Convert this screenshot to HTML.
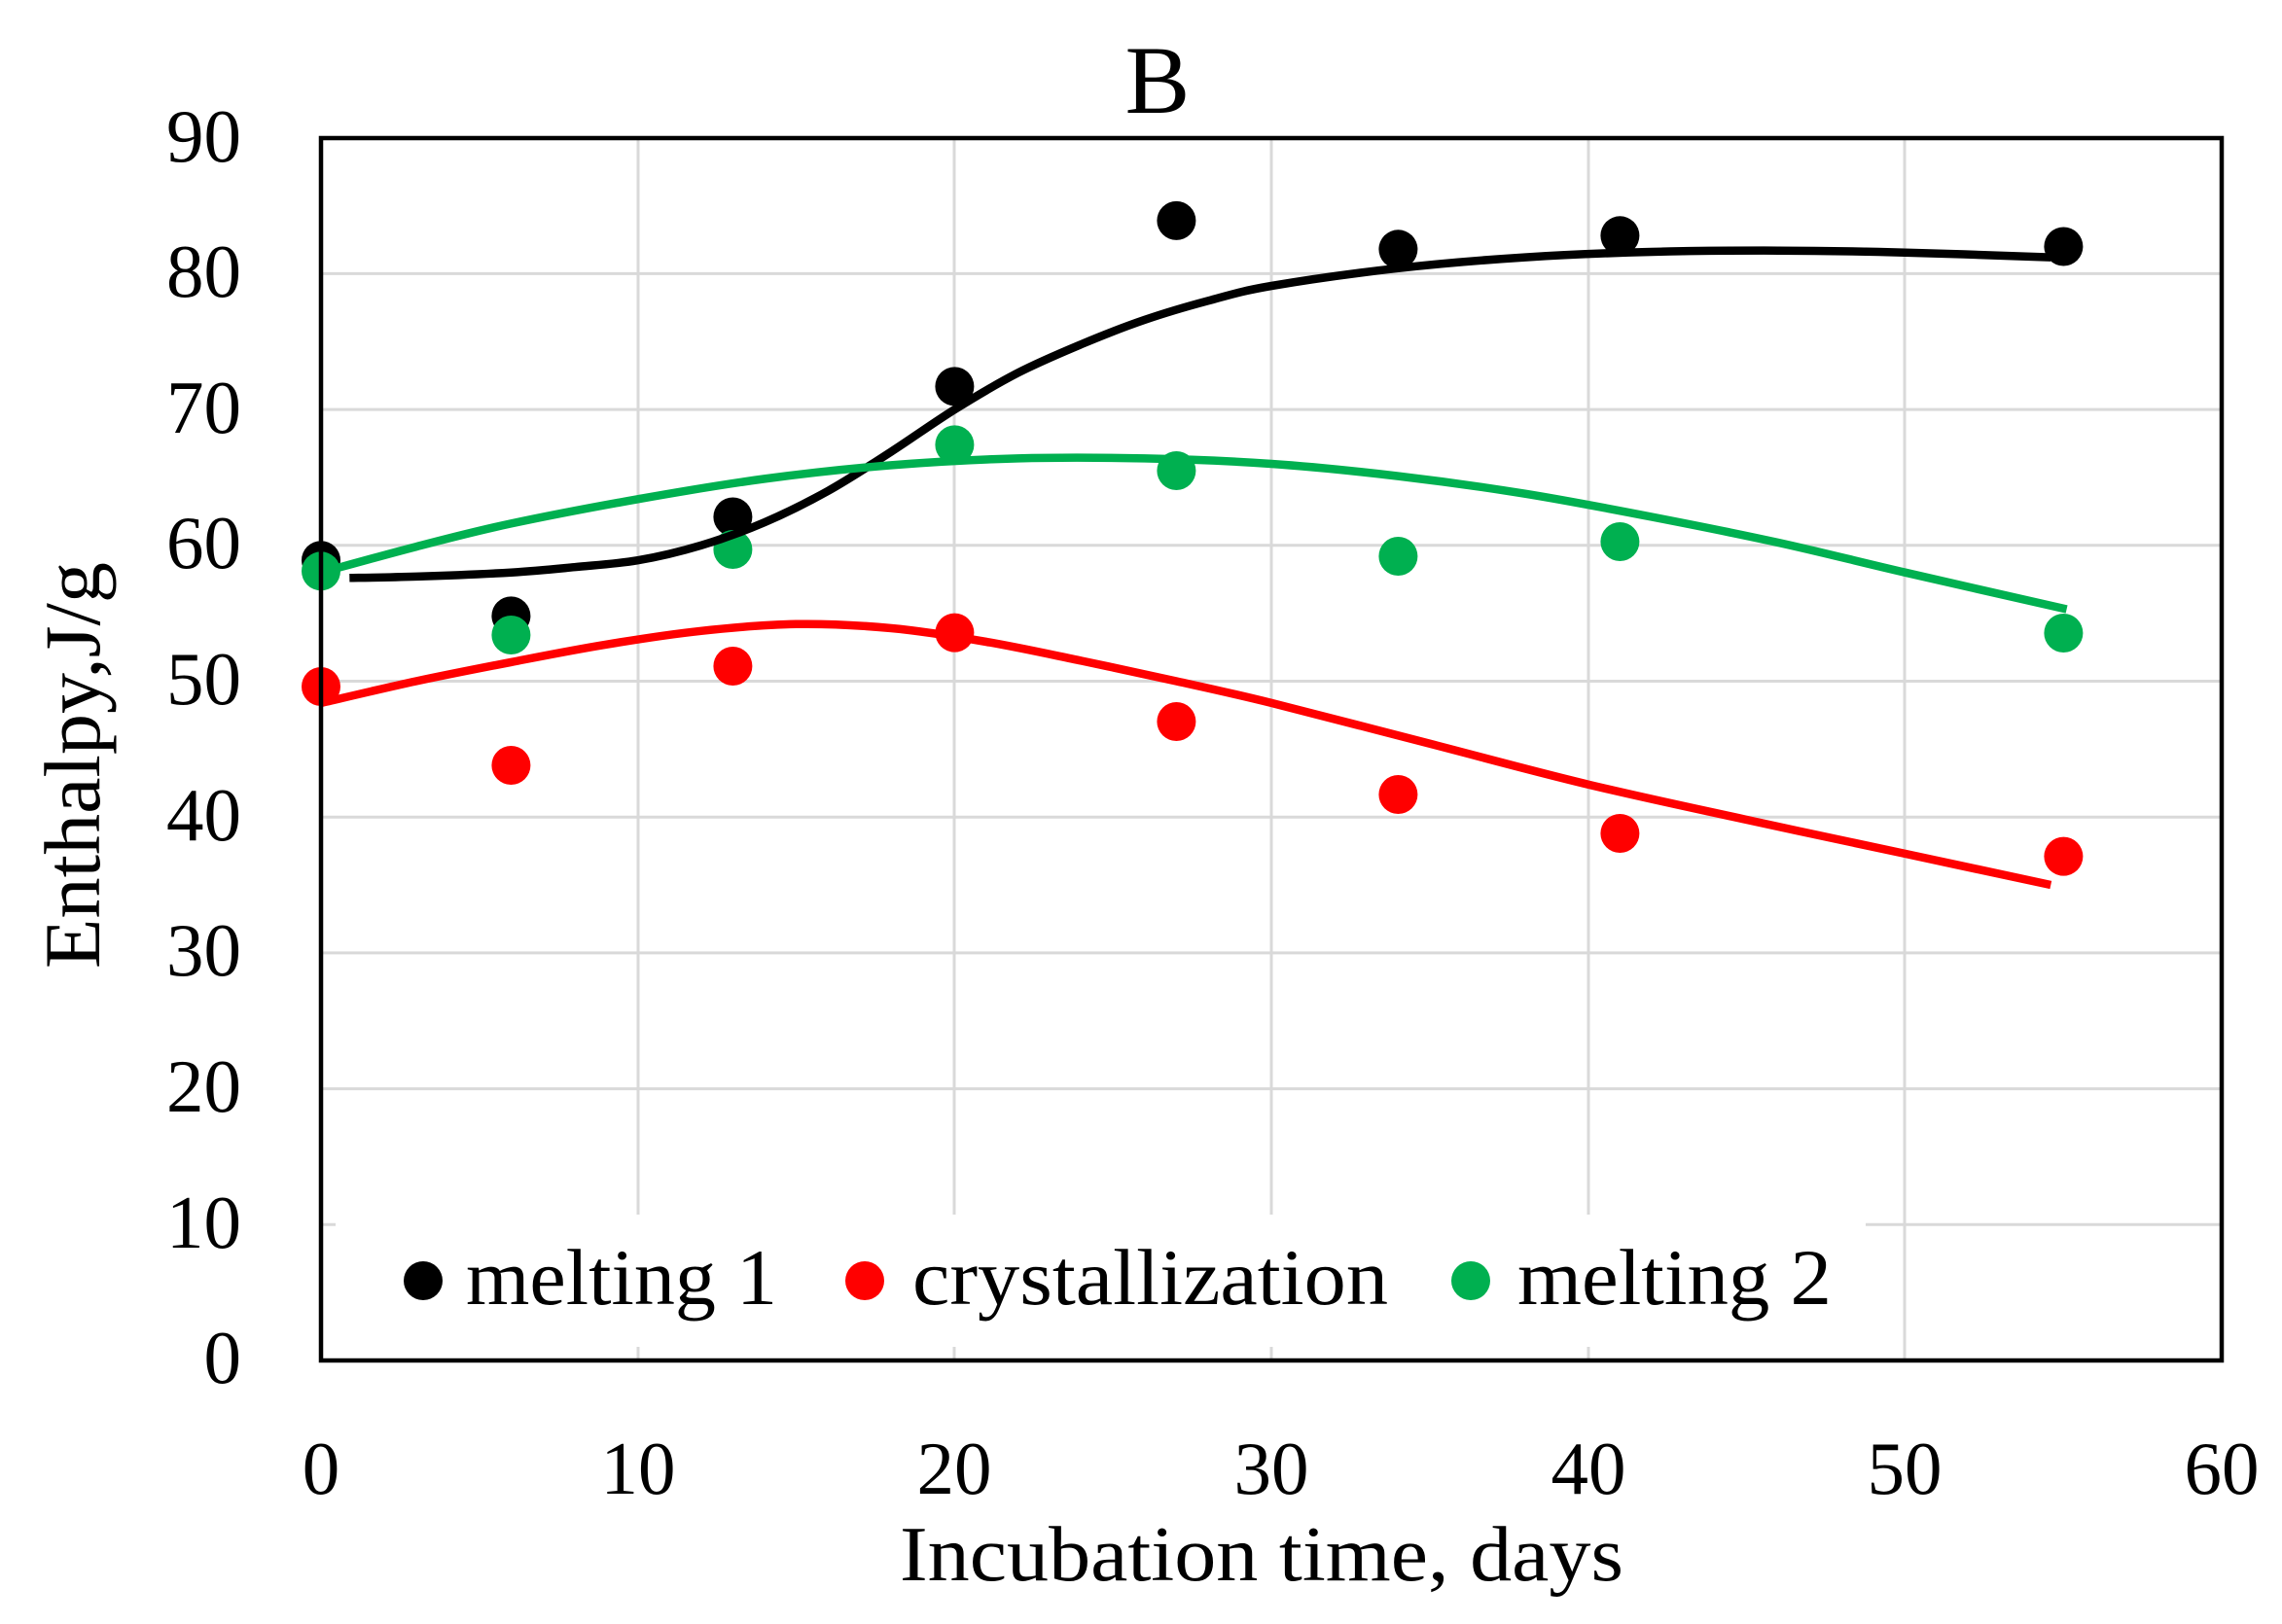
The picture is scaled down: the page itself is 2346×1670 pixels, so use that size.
<!DOCTYPE html>
<html>
<head>
<meta charset="utf-8">
<style>
  html,body{margin:0;padding:0;background:#fff;}
  svg{display:block;}
  text{font-family:"Liberation Serif",serif;fill:#000;}
</style>
</head>
<body>
<svg id="chart" width="2346" height="1670" viewBox="0 0 2346 1670" xmlns="http://www.w3.org/2000/svg">
  <rect x="0" y="0" width="2346" height="1670" fill="#fff"/>

  <!-- gridlines -->
  <g stroke="#d9d9d9" stroke-width="3" fill="none">
    <line x1="656" y1="142" x2="656" y2="1399"/>
    <line x1="981" y1="142" x2="981" y2="1399"/>
    <line x1="1307" y1="142" x2="1307" y2="1399"/>
    <line x1="1633" y1="142" x2="1633" y2="1399"/>
    <line x1="1958" y1="142" x2="1958" y2="1399"/>
    <line x1="330" y1="1259.3" x2="2284" y2="1259.3"/>
    <line x1="330" y1="1119.6" x2="2284" y2="1119.6"/>
    <line x1="330" y1="979.9" x2="2284" y2="979.9"/>
    <line x1="330" y1="840.2" x2="2284" y2="840.2"/>
    <line x1="330" y1="700.5" x2="2284" y2="700.5"/>
    <line x1="330" y1="560.8" x2="2284" y2="560.8"/>
    <line x1="330" y1="421.1" x2="2284" y2="421.1"/>
    <line x1="330" y1="281.4" x2="2284" y2="281.4"/>
  </g>

  <!-- legend background -->
  <rect x="345" y="1249" width="1573" height="136" fill="#fff"/>

  <!-- markers -->
  <g fill="#000">
    <circle cx="330" cy="576.2" r="20"/>
    <circle cx="525.4" cy="633.4" r="20"/>
    <circle cx="753.4" cy="531.5" r="20"/>
    <circle cx="981.4" cy="397.4" r="20"/>
    <circle cx="1209.4" cy="226.9" r="20"/>
    <circle cx="1437.4" cy="256.3" r="20"/>
    <circle cx="1665.4" cy="242.3" r="20"/>
    <circle cx="2121.4" cy="253.5" r="20"/>
  </g>
  <g fill="#ff0000">
    <circle cx="330" cy="706" r="20"/>
    <circle cx="525.4" cy="787" r="20"/>
    <circle cx="753.4" cy="685" r="20"/>
    <circle cx="981.4" cy="650.6" r="20"/>
    <circle cx="1209.4" cy="742" r="20"/>
    <circle cx="1437.4" cy="817" r="20"/>
    <circle cx="1665.4" cy="857" r="20"/>
    <circle cx="2121.4" cy="880.6" r="20"/>
  </g>
  <g fill="#00b050">
    <circle cx="330" cy="587.3" r="20"/>
    <circle cx="525.4" cy="653" r="20"/>
    <circle cx="753.4" cy="565" r="20"/>
    <circle cx="981.4" cy="457.4" r="20"/>
    <circle cx="1209.4" cy="484" r="20"/>
    <circle cx="1437.4" cy="572" r="20"/>
    <circle cx="1665.4" cy="557" r="20"/>
    <circle cx="2121.4" cy="651" r="20"/>
  </g>

  <!-- trendlines -->
  <g fill="none" stroke-width="8.5" stroke-linejoin="round" stroke-linecap="butt">
    <polyline class="s" stroke="#000" points="359.3,594.3 427.7,592.9 525.4,588.7 590.6,583.2 655.7,576.2 720.8,560.8 786,537.1 851.1,504.9 916.3,464.4 981.4,421.1 1046.5,383.4 1111.7,354 1176.8,328.9 1242,309.3 1307.1,294 1437.4,275.8 1567.7,264.6 1697.9,259 1828.2,257.7 1958.5,259.7 2108.3,264.6"/>
    <polyline class="s" stroke="#ff0000" points="330,722.9 427.7,700.5 525.4,680.9 623.1,662.8 720.8,648.8 818.6,641.8 916.3,646 1014,660 1111.7,679.5 1209.4,700.5 1307.1,722.9 1470,764.8 1632.8,806.7 1795.7,843 1958.5,877.9 2108.3,910"/>
    <polyline class="s" stroke="#00b050" points="330,588.7 427.7,562.2 525.4,538.4 655.7,513.3 786,492.4 916.3,478.4 1046.5,471.4 1176.8,471.4 1307.1,477 1437.4,489.6 1567.7,507.7 1697.9,531.5 1828.2,558 1958.5,588.7 2124.6,626.5"/>
  </g>

  <!-- plot frame -->
  <rect x="330" y="142" width="1954" height="1257" fill="none" stroke="#000" stroke-width="4.5"/>

  <!-- legend -->
  <circle cx="435" cy="1317" r="20" fill="#000"/>
  <circle cx="889" cy="1317" r="20" fill="#ff0000"/>
  <circle cx="1512" cy="1317" r="20" fill="#00b050"/>
  <g font-size="82">
    <text x="479" y="1341" textLength="320" lengthAdjust="spacingAndGlyphs">melting 1</text>
    <text x="938" y="1341" textLength="489" lengthAdjust="spacingAndGlyphs">crystallization</text>
    <text x="1560" y="1341" textLength="323" lengthAdjust="spacingAndGlyphs">melting 2</text>
  </g>

  <!-- y tick labels -->
  <g font-size="77" text-anchor="end">
    <text x="248" y="1422">0</text>
    <text x="248" y="1283">10</text>
    <text x="248" y="1143">20</text>
    <text x="248" y="1003">30</text>
    <text x="248" y="864">40</text>
    <text x="248" y="724">50</text>
    <text x="248" y="584">60</text>
    <text x="248" y="445">70</text>
    <text x="248" y="305">80</text>
    <text x="248" y="166">90</text>
  </g>

  <!-- x tick labels -->
  <g font-size="77" text-anchor="middle">
    <text x="330" y="1536">0</text>
    <text x="656" y="1536">10</text>
    <text x="981" y="1536">20</text>
    <text x="1307" y="1536">30</text>
    <text x="1633" y="1536">40</text>
    <text x="1958" y="1536">50</text>
    <text x="2284" y="1536">60</text>
  </g>

  <!-- title -->
  <text x="1190" y="116" font-size="100" text-anchor="middle">B</text>

  <!-- axis titles -->
  <text x="925" y="1625" font-size="80" textLength="744" lengthAdjust="spacingAndGlyphs">Incubation time, days</text>
  <text transform="translate(102,787) rotate(-90)" x="0" y="0" font-size="82" text-anchor="middle" textLength="418" lengthAdjust="spacingAndGlyphs">Enthalpy,J/g</text>
</svg>
<script>
(function(){
  try{
    var NS="http://www.w3.org/2000/svg";
    var pls=document.querySelectorAll("polyline.s");
    for(var k=0;k<pls.length;k++){
      var pl=pls[k];
      var pts=pl.getAttribute("points").trim().split(/\s+/).map(function(p){return p.split(",").map(Number);});
      var d="M"+pts[0][0]+","+pts[0][1];
      for(var i=0;i<pts.length-1;i++){
        var p0=pts[i-1]||pts[i],p1=pts[i],p2=pts[i+1],p3=pts[i+2]||pts[i+1];
        var c1x=p1[0]+(p2[0]-p0[0])/6,c1y=p1[1]+(p2[1]-p0[1])/6;
        var c2x=p2[0]-(p3[0]-p1[0])/6,c2y=p2[1]-(p3[1]-p1[1])/6;
        d+=" C"+c1x.toFixed(1)+","+c1y.toFixed(1)+" "+c2x.toFixed(1)+","+c2y.toFixed(1)+" "+p2[0]+","+p2[1];
      }
      var path=document.createElementNS(NS,"path");
      path.setAttribute("d",d);
      path.setAttribute("stroke",pl.getAttribute("stroke"));
      path.setAttribute("fill","none");
      pl.parentNode.replaceChild(path,pl);
    }
  }catch(e){}
})();
</script>
</body>
</html>
